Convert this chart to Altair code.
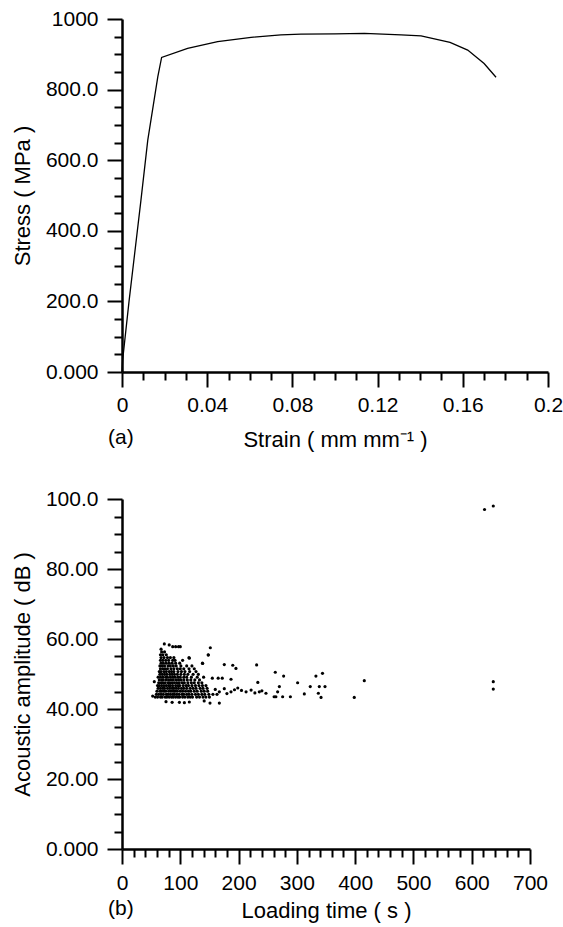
import altair as alt
import pandas as pd

FONT = "Liberation Sans"

# ---------- (a) stress-strain curve ----------
strain = [0, 0.0003, 0.0033, 0.0089, 0.0121, 0.0168, 0.0186, 0.0308, 0.0449, 0.0606,
          0.0746, 0.0840, 0.1000, 0.1138, 0.1310, 0.1404, 0.1540, 0.1623, 0.1700, 0.1756]
stress = [0, 34, 200, 487, 657, 836, 891, 917, 936, 948,
          955, 957, 958, 959, 955, 952, 934, 912, 874, 835]

a_x_ticks = [i / 100 for i in range(0, 21)]
a_y_ticks = list(range(0, 1001, 50))

# ---------- (b) acoustic emission amplitude vs loading time ----------
core_db = [43.4, 44.2, 45.1, 45.9, 46.7, 47.5, 48.3, 49.1, 49.9, 50.7,
           51.5, 52.3, 53.1, 53.9, 54.7, 55.5, 56.3, 57.1]
core_t = [
    [57, 61, 66, 69, 74, 77, 81, 85, 88, 92, 96, 99, 104, 108, 113, 117, 121, 128, 133, 139, 144, 150],
    [59, 63, 67, 71, 76, 79, 83, 87, 90, 94, 98, 103, 106, 111, 115, 120, 126, 131, 137, 142, 149, 156, 163],
    [60, 65, 68, 72, 75, 80, 84, 88, 91, 95, 100, 104, 109, 114, 118, 124, 129, 136, 141, 147],
    [62, 66, 70, 73, 78, 82, 86, 89, 93, 97, 102, 106, 111, 117, 122, 127, 134, 139, 146],
    [61, 64, 68, 72, 76, 80, 83, 87, 92, 96, 99, 105, 110, 114, 120, 126, 132, 138, 144],
    [63, 67, 70, 74, 79, 82, 86, 90, 94, 98, 103, 107, 113, 119, 124, 131, 137],
    [64, 68, 71, 76, 80, 84, 88, 93, 97, 101, 106, 112, 118, 125, 133],
    [62, 66, 70, 75, 78, 83, 87, 91, 96, 100, 106, 111, 119, 129, 140],
    [65, 69, 73, 77, 82, 86, 90, 95, 101, 107, 113, 122, 131],
    [64, 67, 72, 76, 81, 85, 89, 96, 102, 108, 116, 127],
    [66, 70, 74, 78, 84, 89, 95, 100, 106, 115, 124],
    [65, 69, 73, 79, 83, 88, 93, 101, 111, 120],
    [67, 71, 76, 81, 86, 92, 99, 138],
    [66, 70, 75, 80, 87, 91, 104],
    [67, 72, 78, 83, 89, 115],
    [66, 70, 76, 148],
    [68, 73],
    [67],
]
sparse_t = [52.6, 55.4, 75.5, 86, 98.5, 107, 115.5, 141, 151, 167,
            72.6, 81, 87, 92, 97, 100, 151.5, 148, 138.4, 115.5,
            175.5, 190, 195.5, 231, 263, 155, 165, 172, 187, 233,
            160, 167, 175.5, 180, 187, 193, 198.6, 205, 212.9, 221.5,
            228, 235.6, 240, 247, 267, 264, 270, 261, 275.6, 288.9,
            277.3, 301.3, 332.7, 344, 312.8, 323, 338.5, 348.3, 336.9, 341.5,
            398.5, 415.7, 637, 637, 622, 637]
sparse_db = [43.7, 47.8, 42.1, 41.9, 41.9, 41.8, 42.0, 42.3, 41.7, 41.7,
             58.6, 58.3, 57.8, 57.8, 57.8, 57.8, 57.5, 55.4, 53.0, 54.5,
             52.7, 52.5, 51.6, 52.6, 50.5, 48.8, 48.8, 48.8, 48.5, 47.6,
             45.6, 44.9, 45.8, 44.4, 44.9, 45.5, 46.0, 45.3, 44.9, 45.4,
             44.6, 44.9, 45.2, 44.5, 44.9, 43.5, 46.4, 43.5, 43.5, 43.5,
             49.4, 47.5, 49.4, 50.2, 44.3, 46.4, 46.4, 46.4, 44.5, 43.3,
             43.3, 48.1, 47.8, 45.7, 97.0, 98.0]

b_x_ticks = list(range(0, 701, 20))
b_y_ticks = list(range(0, 101, 5))

# ---------- tables ----------
df_a = pd.DataFrame({"strain": strain, "stress": stress})
pts_t, pts_db = [], []
for db, ts in zip(core_db, core_t):
    for t in ts:
        pts_t.append(t)
        pts_db.append(db)
pts_t += sparse_t
pts_db += sparse_db
df_b = pd.DataFrame({"time": pts_t, "amp": pts_db})


def tick_size(test):
    return {"condition": {"test": test, "value": 15}, "value": 8}


common_axis = dict(
    grid=False,
    domainColor="black",
    domainWidth=2.5,
    tickColor="black",
    tickWidth=2,
    labelFont=FONT,
    labelFontSize=21,
    labelColor="black",
    titleFont=FONT,
    titleFontSize=22,
    titleFontWeight="normal",
    titleColor="black",
    labelOverlap=False,
)

yaxis_kw = dict(labelPadding=9, titlePadding=11, minExtent=77, maxExtent=77)


def side_title(txt):
    return alt.TitleParams(txt, orient="bottom", anchor="start", frame="group",
                           offset=-23, dx=-14, font=FONT, fontSize=21,
                           fontWeight="normal", color="black")


ax_a_x = alt.Axis(
    values=a_x_ticks,
    labelExpr="round(datum.value*100) % 4 == 0 ? toString(round(datum.value*100)/100) : ''",
    tickSize=tick_size("round(datum.value*100) % 4 == 0"),
    title="Strain ( mm mm\u207b\u00b9 )",
    labelPadding=7, titlePadding=14, labelFlush=False,
    **common_axis,
)
ax_a_y = alt.Axis(
    values=a_y_ticks,
    labelExpr="round(datum.value) % 200 == 0 ? format(datum.value, '.4g') : ''",
    tickSize=tick_size("round(datum.value) % 200 == 0"),
    title="Stress ( MPa )",
    **yaxis_kw, **common_axis,
)

chart_a = alt.Chart(df_a).mark_line(color="black", strokeWidth=1.3).encode(
    x=alt.X("strain:Q", scale=alt.Scale(domain=[0, 0.2], nice=False, zero=False), axis=ax_a_x),
    y=alt.Y("stress:Q", scale=alt.Scale(domain=[0, 1000], nice=False), axis=ax_a_y),
).properties(width=426, height=353, title=side_title("(a)"))

ax_b_x = alt.Axis(
    values=b_x_ticks,
    labelExpr="round(datum.value) % 100 == 0 ? toString(round(datum.value)) : ''",
    tickSize=tick_size("round(datum.value) % 100 == 0"),
    title="Loading time ( s )",
    labelPadding=8, titlePadding=7, labelFlush=False,
    **common_axis,
)
ax_b_y = alt.Axis(
    values=b_y_ticks,
    labelExpr="round(datum.value) % 20 == 0 ? format(datum.value, '.4g') : ''",
    tickSize=tick_size("round(datum.value) % 20 == 0"),
    title="Acoustic amplitude ( dB )",
    **yaxis_kw, **common_axis,
)

chart_b = alt.Chart(df_b).mark_circle(color="black", size=10, opacity=1).encode(
    x=alt.X("time:Q", scale=alt.Scale(domain=[0, 700], nice=False, zero=False), axis=ax_b_x),
    y=alt.Y("amp:Q", scale=alt.Scale(domain=[0, 100], nice=False), axis=ax_b_y),
).properties(width=408, height=350, title=side_title("(b)"))

chart = alt.vconcat(chart_a, chart_b, spacing=38).properties(
    padding={"left": 11, "top": 8, "right": 0, "bottom": 3},
    background="white",
).configure_view(stroke=None)

chart.save("out.html", embed_options={"renderer": "svg", "actions": False})
